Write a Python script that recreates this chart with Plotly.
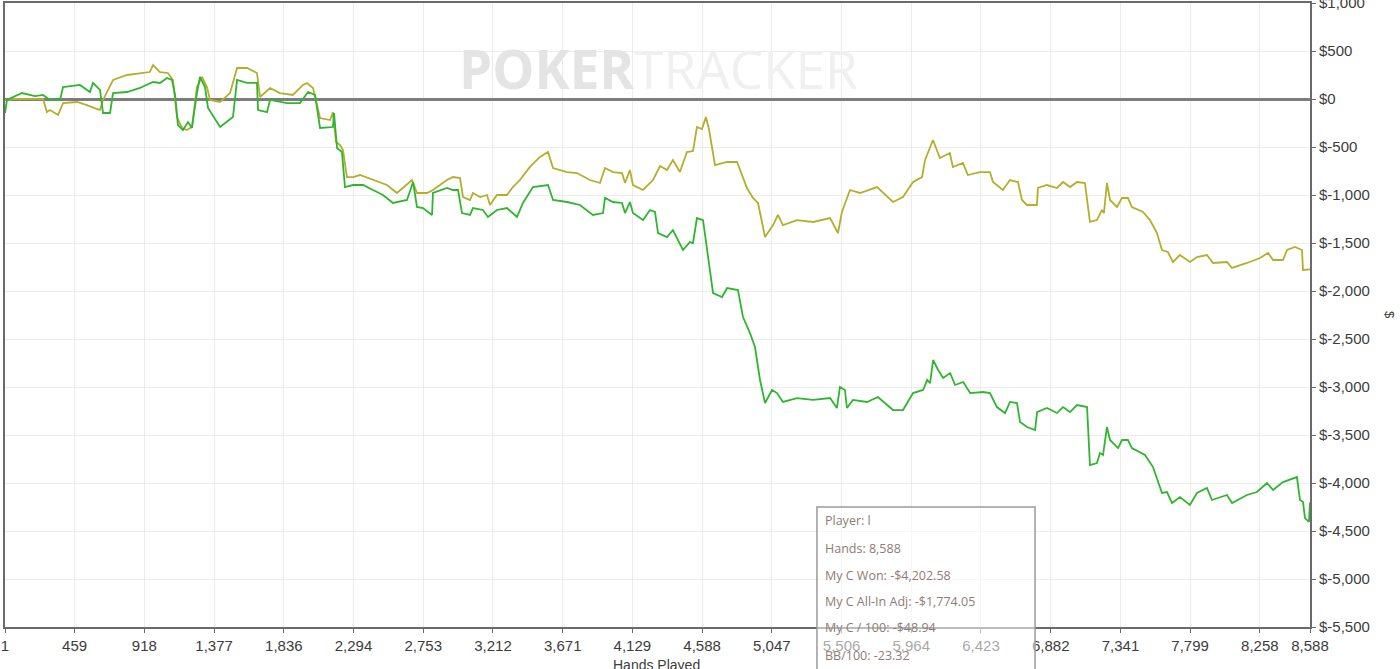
import plotly.graph_objects as go

# ---------------- data ----------------
won_hands = [1, 14, 113, 198, 251, 297, 363, 383, 494, 560, 580, 626, 646, 692, 712, 804, 889, 975, 1021, 1067,
             1100, 1120, 1139, 1172, 1205, 1231, 1264, 1284, 1317, 1337, 1416, 1501, 1528, 1593, 1659, 1666, 1725,
             1745, 1857, 1942, 1995, 2041, 2074, 2159, 2166, 2186, 2218, 2238, 2291, 2357, 2422, 2488, 2554, 2646,
             2686, 2712, 2751, 2811, 2817, 2909, 2949, 2982, 3008, 3061, 3080, 3146, 3179, 3238, 3304, 3370, 3409,
             3475, 3574, 3607, 3699, 3784, 3870, 3936, 3949, 4002, 4061, 4081, 4113, 4133, 4199, 4245, 4278, 4298,
             4357, 4396, 4462, 4508, 4528, 4554, 4594, 4627, 4660, 4719, 4752, 4824, 4857, 4903, 4936, 4969, 5002,
             5048, 5081, 5120, 5212, 5318, 5430, 5475, 5495, 5528, 5541, 5581, 5673, 5745, 5844, 5910, 5976, 6042,
             6069, 6088, 6108, 6141, 6174, 6220, 6253, 6306, 6352, 6437, 6482, 6528, 6581, 6614, 6660, 6680, 6726,
             6779, 6792, 6857, 6923, 6963, 7009, 7055, 7121, 7140, 7186, 7206, 7226, 7252, 7272, 7325, 7351, 7390,
             7416, 7502, 7555, 7614, 7647, 7680, 7732, 7798, 7844, 7910, 7943, 8042, 8075, 8173, 8239, 8305, 8345,
             8410, 8502, 8522, 8542, 8555, 8581, 8588]
won_values = [-146, -10, 62, 31, 42, -10, -10, 125, 146, 73, 167, 94, -146, -146, 62, 73, 115, 177, 167, 219,
              198, 42, -271, -323, -240, -302, 62, 229, 125, -94, -292, -188, 198, 167, 167, -115, -136,
              -10, -42, -42, 73, 42, -302, -292, -146, -511, -552, -917, -896, -896, -948, -1000, -1083, -1052,
              -865, -1125, -1136, -1208, -979, -927, -948, -948, -1188, -1208, -1136, -1156, -1229, -1156, -1136, -1229, -1083,
              -917, -896, -1052, -1073, -1104, -1208, -1188, -1031, -1073, -1083, -1188, -1073, -1188, -1261, -1156, -1177, -1396,
              -1438, -1365, -1573, -1490, -1500, -1240, -1261, -1625, -2021, -2063, -1969, -1990, -2271, -2438, -2584, -2927, -3167,
              -3031, -3063, -3156, -3115, -3135, -3115, -3219, -3000, -3031, -3219, -3135, -3156, -3104, -3240, -3240, -3063, -3031,
              -2927, -2959, -2719, -2823, -2907, -2855, -2979, -2948, -3063, -3052, -3063, -3209, -3271, -3156, -3167, -3365, -3417,
              -3448, -3261, -3219, -3271, -3209, -3261, -3188, -3209, -3813, -3792, -3688, -3709, -3417, -3552, -3636, -3552, -3552,
              -3636, -3709, -3834, -4104, -4094, -4209, -4146, -4229, -4104, -4052, -4177, -4125, -4209, -4125, -4094, -4000, -4073,
              -3990, -3938, -4177, -4198, -4365, -4406, -4203]

adj_hands = [1, 53, 251, 277, 297, 350, 383, 475, 540, 626, 646, 712, 804, 889, 954, 975, 1021, 1073, 1106, 1133,
             1166, 1198, 1231, 1264, 1297, 1330, 1350, 1416, 1482, 1528, 1593, 1659, 1679, 1745, 1810, 1895, 1962,
             1988, 2028, 2074, 2140, 2159, 2179, 2205, 2225, 2251, 2291, 2337, 2422, 2514, 2580, 2619, 2679, 2712,
             2778, 2817, 2844, 2909, 2949, 2995, 3015, 3061, 3080, 3127, 3173, 3192, 3238, 3304, 3343, 3389, 3455,
             3521, 3574, 3607, 3699, 3765, 3850, 3916, 3949, 4002, 4061, 4081, 4113, 4133, 4199, 4265, 4311, 4357,
             4396, 4442, 4488, 4528, 4554, 4587, 4613, 4633, 4673, 4752, 4818, 4883, 4923, 4956, 5002, 5055, 5087,
             5120, 5212, 5318, 5430, 5482, 5508, 5561, 5627, 5739, 5844, 5910, 5976, 6035, 6055, 6107, 6153, 6218,
             6238, 6304, 6337, 6416, 6482, 6502, 6567, 6614, 6666, 6693, 6725, 6791, 6798, 6857, 6923, 6963, 7009,
             7055, 7107, 7140, 7186, 7219, 7232, 7252, 7272, 7318, 7351, 7390, 7416, 7489, 7535, 7581, 7614, 7653,
             7686, 7732, 7798, 7844, 7910, 7950, 8042, 8075, 8173, 8259, 8312, 8345, 8410, 8437, 8489, 8535, 8542,
             8588]
adj_values = [-10, 0, 0, -136, -115, -167, -42, -31, -63, -115, -10, 198, 250, 271, 281, 354, 281, 271, 198, -188,
              -302, -323, -292, 125, 229, 125, -10, -31, 62, 323, 323, 271, 21, 115, 62, 42, 146,
              167, 115, -198, -219, -136, -448, -479, -531, -813, -813, -792, -844, -896, -979, -927, -844, -979,
              -979, -948, -917, -844, -813, -823, -1021, -1052, -979, -1021, -1000, -1104, -1000, -1000, -917, -844, -708,
              -604, -552, -719, -761, -771, -844, -875, -719, -761, -771, -875, -740, -896, -948, -844, -698, -740,
              -635, -761, -552, -542, -292, -313, -188, -313, -688, -656, -656, -927, -1031, -1083, -1438, -1313, -1208,
              -1313, -1261, -1281, -1240, -1396, -1177, -948, -979, -917, -1073, -1021, -865, -813, -635, -427, -615, -563,
              -708, -667, -792, -761, -761, -865, -948, -844, -865, -1052, -1104, -1104, -927, -896, -927, -865, -917,
              -865, -875, -1281, -1261, -1156, -1188, -875, -1052, -1125, -1031, -1031, -1125, -1177, -1261, -1396, -1573, -1594,
              -1698, -1625, -1698, -1646, -1625, -1708, -1698, -1760, -1708, -1656, -1604, -1677, -1677, -1573, -1542, -1573, -1781,
              -1774]

x_ticks = [1, 459, 918, 1377, 1836, 2294, 2753, 3212, 3671, 4129, 4588, 5047, 5506, 5964, 6423, 6882, 7341, 7799, 8258, 8588]
y_ticks = [1000, 500, 0, -500, -1000, -1500, -2000, -2500, -3000, -3500, -4000, -4500, -5000, -5500]

tooltip_lines = ["Player: l", "Hands: 8,588", "My C Won: -$4,202.58", "My C All-In Adj: -$1,774.05",
                 "My C / 100: -$48.94", "BB/100: -23.32"]


def money(v):
    return "$" + ("-" if v < 0 else "") + f"{abs(v):,}"


fig = go.Figure()
fig.add_trace(go.Scatter(x=adj_hands, y=adj_values, mode="lines", name="My C All-In Adj",
                         line=dict(color="#b5ae2c", width=1.8), hoverinfo="skip"))
fig.add_trace(go.Scatter(x=won_hands, y=won_values, mode="lines", name="My C Won",
                         line=dict(color="#30b530", width=1.8), hoverinfo="skip"))

tick_font = dict(family="Liberation Sans, Arial, sans-serif", size=15, color="#3c3c3c")

fig.update_layout(
    width=1400, height=669,
    margin=dict(l=5, r=90, t=3, b=42),
    paper_bgcolor="white", plot_bgcolor="white",
    showlegend=False, hovermode=False,
    xaxis=dict(range=[1, 8588], tickvals=x_ticks, ticktext=[f"{t:,}" for t in x_ticks],
               showgrid=True, gridcolor="#ececec", gridwidth=1, automargin=False,
               showline=True, linecolor="#6a6a6a", linewidth=2, mirror=True,
               ticks="outside", ticklen=4, tickcolor="#6a6a6a", tickfont=tick_font,
               ticklabeloverflow="allow", zeroline=False),
    yaxis=dict(range=[-5500, 1000], tickvals=y_ticks, ticktext=[money(v) for v in y_ticks],
               side="right", showgrid=True, gridcolor="#ececec", gridwidth=1, automargin=False,
               showline=True, linecolor="#6a6a6a", linewidth=2, mirror=True,
               ticks="outside", ticklen=4, tickcolor="#6a6a6a", tickfont=tick_font,
               ticklabeloverflow="allow",
               zeroline=True, zerolinecolor="#7d7d7d", zerolinewidth=3),
)

annotations = []
# watermark
annotations.append(dict(
    xref="paper", yref="paper", x=0.5004, y=0.8958, xanchor="center", yanchor="middle",
    text='<span style="color:#e4e4e4"><b>POKER</b></span><span style="color:#f0f0f0">TRACKER</span>',
    showarrow=False, font=dict(family="Open Sans, sans-serif", size=53)))
# axis titles
annotations.append(dict(xref="paper", yref="paper", x=0.4996, y=-0.061, xanchor="center", yanchor="middle",
                        text="Hands Played", showarrow=False,
                        font=dict(family="Liberation Sans, Arial, sans-serif", size=14, color="#3c3c3c")))
annotations.append(dict(xref="paper", yref="paper", x=1.0613, y=0.5, xanchor="center", yanchor="middle",
                        text="$", textangle=90, showarrow=False,
                        font=dict(family="Liberation Sans, Arial, sans-serif", size=13, color="#3c3c3c")))
# tooltip text
line_y = [0.1699, 0.1266, 0.0833, 0.0401, -0.0016, -0.0449]
for txt, yy in zip(tooltip_lines, line_y):
    annotations.append(dict(xref="paper", yref="paper", x=0.6268, y=yy, xanchor="left", yanchor="middle",
                            text=txt, showarrow=False,
                            font=dict(family="Open Sans, sans-serif", size=12.5, color="#8e7c76")))
fig.update_layout(annotations=annotations)

# tooltip box
fig.add_shape(type="rect", xref="paper", yref="paper", x0=0.6222, x1=0.7893, y0=-0.2, y1=0.1923,
              line=dict(color="#9a9a9a", width=1.5), fillcolor="rgba(255,255,255,0.55)", layer="above")

fig.write_html("out.html", config={"displayModeBar": False},
               post_script="document.body.style.margin='0';document.body.style.overflow='hidden';")
